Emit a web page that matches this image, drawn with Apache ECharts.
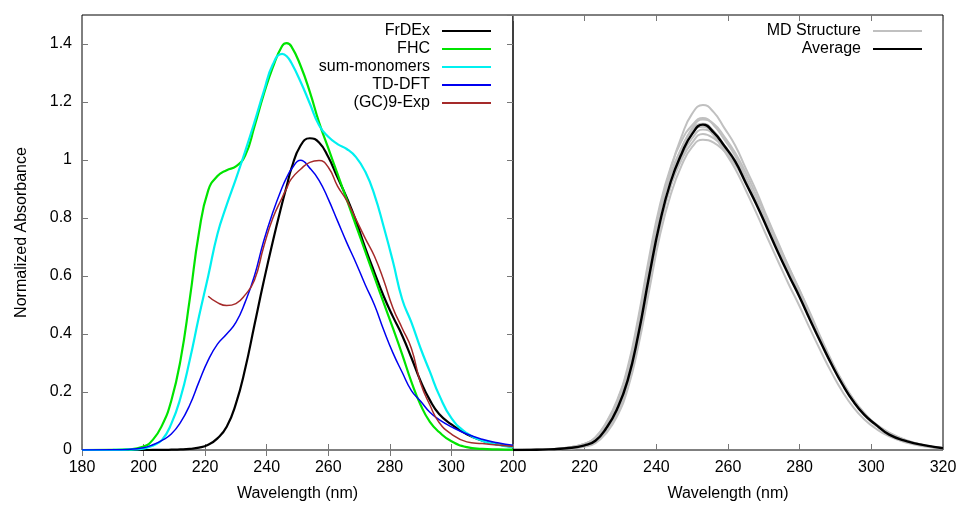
<!DOCTYPE html>
<html>
<head>
<meta charset="utf-8">
<script src="https://cdn.jsdelivr.net/npm/echarts@6/dist/echarts.min.js"></script>
<style>
html, body { margin: 0; padding: 0; background: #fff; }
#chart { width: 963px; height: 506px; }
</style>
</head>
<body>
<div id="chart"></div>
<script>
// ---- left panel: spectra on a shared wavelength grid (nm) ----
const wlLeft = [180, 190, 195, 200, 203, 206, 209, 212, 215, 218, 221, 224, 227, 230, 233, 236, 239,
    242, 245, 246.5, 248, 251, 254, 257, 260, 263, 266, 269, 272, 275, 278, 281, 284, 287, 290, 293, 296,
    300, 305, 310, 315, 320]
const frdex = [0, 0, 0, 0, 0.0001, 0.0003, 0.001, 0.002, 0.004, 0.008, 0.018, 0.04, 0.08, 0.16, 0.28, 0.43, 0.58,
    0.72, 0.85, 0.91, 0.97, 1.05, 1.075, 1.06, 1.01, 0.94, 0.87, 0.79, 0.697, 0.612, 0.53, 0.46, 0.395, 0.318, 0.237, 0.172, 0.124,
    0.088, 0.054, 0.032, 0.019, 0.011]
const fhc = [0, 0.0005, 0.002, 0.012, 0.035, 0.085, 0.17, 0.31, 0.52, 0.75, 0.895, 0.945, 0.965, 0.978, 1.015, 1.115, 1.225,
    1.32, 1.393, 1.403, 1.392, 1.325, 1.235, 1.13, 1.041, 0.952, 0.863, 0.774, 0.685, 0.596, 0.507, 0.42, 0.33, 0.235, 0.155, 0.097, 0.062,
    0.03, 0.01, 0.004, 0.002, 0.001]
const sumMonomers = [0, 0.0003, 0.001, 0.005, 0.015, 0.035, 0.09, 0.18, 0.31, 0.46, 0.6, 0.745, 0.845, 0.935, 1.03, 1.13, 1.235,
    1.33, 1.366, 1.358, 1.335, 1.27, 1.195, 1.12, 1.08, 1.055, 1.038, 1.01, 0.96, 0.88, 0.77, 0.65, 0.52, 0.44, 0.35, 0.27, 0.19,
    0.11, 0.058, 0.032, 0.018, 0.01]
const tddft = [0, 0.0005, 0.002, 0.008, 0.018, 0.033, 0.055, 0.095, 0.155, 0.235, 0.31, 0.365, 0.4, 0.44, 0.51, 0.6, 0.72,
    0.82, 0.905, 0.94, 0.968, 0.999, 0.972, 0.93, 0.865, 0.79, 0.715, 0.645, 0.57, 0.5, 0.414, 0.335, 0.268, 0.205, 0.168, 0.13, 0.105,
    0.08, 0.055, 0.037, 0.025, 0.016]
const gc9exp = [null, null, null, null, null, null, null, null, null, null, 0.53, 0.508, 0.498, 0.505, 0.535, 0.585, 0.7,
    0.8, 0.87, 0.903, 0.935, 0.968, 0.992, 0.998, 0.975, 0.91, 0.86, 0.795, 0.73, 0.668, 0.585, 0.49, 0.42, 0.35, 0.23, 0.155, 0.095,
    0.055, 0.028, 0.022, 0.017, 0.012]

// ---- right panel: individual MD structures + average ----
const wlRight = [200, 205, 210, 215, 220, 223, 226, 229, 232, 235, 238, 241, 244, 247, 250, 253,
    256, 259, 262, 265, 268, 271, 274, 277, 280, 283, 286, 289, 292, 295, 298, 301, 305, 310, 315, 320]
const average = [0, 0.0005, 0.002, 0.006, 0.016, 0.032, 0.075, 0.14, 0.24, 0.4, 0.6, 0.785, 0.925, 1.02, 1.09, 1.122,
    1.095, 1.048, 0.995, 0.92, 0.845, 0.763, 0.68, 0.602, 0.527, 0.446, 0.368, 0.293, 0.225, 0.167, 0.122, 0.09, 0.053, 0.03, 0.016, 0.006]
const md1 = [0, 0.0005, 0.002, 0.007, 0.018, 0.036, 0.08, 0.15, 0.255, 0.42, 0.63, 0.82, 0.97, 1.08, 1.16, 1.19,
    1.165, 1.11, 1.05, 0.97, 0.89, 0.8, 0.715, 0.63, 0.55, 0.465, 0.38, 0.3, 0.23, 0.17, 0.125, 0.088, 0.056, 0.03, 0.015, 0.006]
const md2 = [0, 0.0006, 0.0025, 0.008, 0.022, 0.044, 0.095, 0.17, 0.285, 0.46, 0.665, 0.845, 0.975, 1.065, 1.12, 1.145,
    1.12, 1.07, 1.015, 0.94, 0.86, 0.78, 0.695, 0.615, 0.54, 0.455, 0.375, 0.298, 0.228, 0.17, 0.124, 0.088, 0.056, 0.03, 0.015, 0.006]
const md3 = [0, 0.0004, 0.0015, 0.005, 0.014, 0.028, 0.065, 0.125, 0.225, 0.38, 0.58, 0.77, 0.92, 1.03, 1.11, 1.14,
    1.125, 1.08, 1.025, 0.955, 0.875, 0.795, 0.71, 0.63, 0.55, 0.47, 0.385, 0.305, 0.235, 0.175, 0.128, 0.09, 0.058, 0.031, 0.015, 0.007]
const md4 = [0, 0.0006, 0.0025, 0.008, 0.021, 0.041, 0.09, 0.163, 0.272, 0.445, 0.645, 0.82, 0.95, 1.04, 1.105, 1.125,
    1.1, 1.05, 0.995, 0.925, 0.85, 0.77, 0.685, 0.605, 0.53, 0.45, 0.37, 0.293, 0.225, 0.168, 0.122, 0.087, 0.056, 0.03, 0.015, 0.006]
const md5 = [0, 0.0006, 0.0025, 0.008, 0.021, 0.042, 0.092, 0.165, 0.275, 0.445, 0.645, 0.82, 0.95, 1.04, 1.1, 1.115,
    1.085, 1.03, 0.97, 0.895, 0.815, 0.732, 0.65, 0.57, 0.495, 0.415, 0.338, 0.265, 0.2, 0.147, 0.106, 0.076, 0.047, 0.025, 0.012, 0.005]
const md6 = [0, 0.0004, 0.0015, 0.005, 0.014, 0.028, 0.068, 0.13, 0.23, 0.385, 0.585, 0.77, 0.91, 1.01, 1.075, 1.105,
    1.09, 1.05, 1.0, 0.93, 0.855, 0.775, 0.69, 0.61, 0.535, 0.455, 0.375, 0.297, 0.228, 0.17, 0.124, 0.088, 0.057, 0.031, 0.015, 0.007]
const md7 = [0, 0.0005, 0.002, 0.006, 0.016, 0.032, 0.074, 0.14, 0.24, 0.4, 0.6, 0.78, 0.91, 1.0, 1.06, 1.09,
    1.075, 1.04, 0.99, 0.92, 0.85, 0.77, 0.69, 0.61, 0.535, 0.455, 0.375, 0.298, 0.23, 0.172, 0.126, 0.09, 0.058, 0.031, 0.015, 0.007]
const md8 = [0, 0.0003, 0.001, 0.004, 0.011, 0.024, 0.058, 0.115, 0.21, 0.36, 0.55, 0.74, 0.88, 0.98, 1.045, 1.07,
    1.06, 1.03, 0.985, 0.92, 0.85, 0.772, 0.695, 0.615, 0.54, 0.46, 0.38, 0.302, 0.232, 0.174, 0.128, 0.092, 0.06, 0.033, 0.016, 0.007]
const mdStructures = [md1, md2, md3, md4, md5, md6, md7, md8]

const font = 'Liberation Sans'
const tick = { show: true, inside: true, length: 6, lineStyle: { color: '#777' } }

function curve(name, xs, ys, color, width, xi, yi) {
    return {
        type: 'line', name, xAxisIndex: xi, yAxisIndex: yi,
        data: xs.map((x, i) => [x, ys[i]]).filter(p => p[1] !== null),
        symbol: 'none', smooth: 0.5, silent: true,
        lineStyle: { color, width }, itemStyle: { color }
    }
}

function xAxis(grid, min, position, labels) {
    return {
        type: 'value', gridIndex: grid, position, min, max: 320, interval: 20,
        axisLine: { show: false }, axisTick: tick, splitLine: { show: false },
        axisLabel: { show: labels, showMaxLabel: min === 200, margin: 10, fontFamily: font, fontSize: 16, color: '#000' },
        name: labels ? 'Wavelength (nm)' : '', nameLocation: 'middle', nameGap: 36,
        nameTextStyle: { fontFamily: font, fontSize: 16, color: '#000' }
    }
}

function yAxis(grid, position, labels, ticks) {
    return {
        type: 'value', gridIndex: grid, position, min: 0, max: 1.5, interval: 0.2,
        axisLine: { show: false }, axisTick: ticks ? tick : { show: false }, splitLine: { show: false },
        axisLabel: { show: labels, showMaxLabel: false, margin: 10, fontFamily: font, fontSize: 16, color: '#000' },
        name: labels ? 'Normalized Absorbance' : '', nameLocation: 'middle', nameGap: 52,
        nameTextStyle: { fontFamily: font, fontSize: 16, color: '#000' }
    }
}

// gnuplot-style key: text right-aligned, a plain line sample to its right
const legendBase = {
    orient: 'vertical', align: 'right', padding: 0, icon: 'rect', itemWidth: 49, itemHeight: 2, itemGap: 2,
    selectedMode: false,
    textStyle: { fontFamily: font, fontSize: 16, color: '#000', padding: [0, 7, 0, 0] }
}

const series = [
    curve('FrDEx', wlLeft, frdex, '#000000', 2.2, 0, 0),
    curve('FHC', wlLeft, fhc, '#00e400', 2.2, 0, 0),
    curve('sum-monomers', wlLeft, sumMonomers, '#00f0f0', 2.2, 0, 0),
    curve('TD-DFT', wlLeft, tddft, '#0000f0', 1.5, 0, 0),
    curve('(GC)9-Exp', wlLeft, gc9exp, '#a52a2a', 1.5, 0, 0)
]
mdStructures.forEach(ys => series.push(curve('MD Structure', wlRight, ys, '#c0c0c0', 2, 2, 2)))
series.push(curve('Average', wlRight, average, '#000000', 2.4, 2, 2))

const chart = echarts.init(document.getElementById('chart'))
chart.setOption({
    animation: false,
    backgroundColor: '#fff',
    grid: [
        { left: 82, right: 450, top: 15, bottom: 56, show: true, borderColor: '#000', borderWidth: 1, outerBoundsMode: 'none' },
        { left: 513, right: 20, top: 15, bottom: 56, show: true, borderColor: '#000', borderWidth: 1, outerBoundsMode: 'none' }
    ],
    xAxis: [xAxis(0, 180, 'bottom', true), xAxis(0, 180, 'top', false), xAxis(1, 200, 'bottom', true), xAxis(1, 200, 'top', false)],
    yAxis: [yAxis(0, 'left', true, true), yAxis(0, 'right', false, true), yAxis(1, 'left', false, false)],
    legend: [
        Object.assign({}, legendBase, { data: ['FrDEx', 'FHC', 'sum-monomers', 'TD-DFT', '(GC)9-Exp'], right: 472, top: 23 }),
        Object.assign({}, legendBase, { data: ['MD Structure', 'Average'], right: 41, top: 23 })
    ],
    series
})
</script>
</body>
</html>
